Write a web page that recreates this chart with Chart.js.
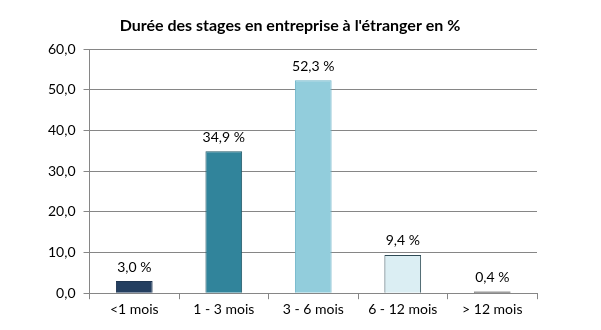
<!DOCTYPE html>
<html>
<head>
<meta charset="utf-8">
<script src="https://cdn.jsdelivr.net/npm/chart.js@4/dist/chart.umd.min.js"></script>
<style>
  html, body { margin: 0; padding: 0; background: #fff; }
  #wrap { width: 601px; height: 330px; position: relative; }
</style>
</head>
<body>
<div id="wrap"><canvas id="grafico"></canvas></div>
<script>
const categories = ["<1 mois", "1 - 3 mois", "3 - 6 mois", "6 - 12 mois", "> 12 mois"];
const values = [3.0, 34.9, 52.3, 9.4, 0.4];
const barColors = ["#243F60", "#31849B", "#92CDDC", "#DBEEF3", "#404040"];
const borderColors = ["#1F3550", "#215968", "#6FB5C8", "#2E4A55", "#333333"];
const titre = "Durée des stages en entreprise à l'étranger en %";

const fonte = "Lato, 'Open Sans', sans-serif";

function virgule(v, d) {
  return v.toFixed(d).replace(".", ",");
}

// titre un peu a gauche du centre, comme dans le classeur
const titrePlugin = {
  id: "titre",
  afterDraw(chart) {
    const c = chart.ctx;
    c.save();
    c.font = "bold 16px " + fonte;
    c.fillStyle = "#000";
    c.textAlign = "center";
    c.textBaseline = "middle";
    c.fillText(titre, 290, 26);
    c.restore();
  },
};

// etiquettes "xx,x %" au-dessus des barres
const etiquettes = {
  id: "etiquettes",
  afterDatasetsDraw(chart) {
    const c = chart.ctx;
    const meta = chart.getDatasetMeta(0);
    c.save();
    c.font = "14px " + fonte;
    c.fillStyle = "#000";
    c.textAlign = "center";
    c.textBaseline = "bottom";
    meta.data.forEach((bar, i) => {
      c.fillText(virgule(values[i], 1) + " %", bar.x, bar.y - 7);
    });
    c.restore();
  },
};

new Chart(document.getElementById("grafico"), {
  type: "bar",
  data: {
    labels: categories,
    datasets: [
      {
        data: values,
        backgroundColor: barColors,
        borderColor: borderColors,
        borderWidth: 1,
        categoryPercentage: 0.41,
        barPercentage: 1,
      },
    ],
  },
  options: {
    responsive: true,
    maintainAspectRatio: false,
    animation: false,
    layout: { padding: { top: 49, right: 64, bottom: 10, left: 40 } },
    plugins: {
      legend: { display: false },
      title: { display: false },
      tooltip: { enabled: false },
    },
    scales: {
      x: {
        grid: {
          offset: true,
          drawOnChartArea: false,
          color: "#868686",
          tickLength: 6,
        },
        border: { color: "#868686" },
        ticks: {
          color: "#000",
          font: { family: fonte, size: 14 },
          padding: 2,
        },
      },
      y: {
        min: 0,
        max: 60,
        grid: { color: "#868686", tickLength: 6 },
        border: { color: "#868686" },
        ticks: {
          stepSize: 10,
          color: "#000",
          font: { family: fonte, size: 14 },
          padding: 8,
          callback: (v) => virgule(v, 1),
        },
      },
    },
  },
  plugins: [titrePlugin, etiquettes],
});
</script>
</body>
</html>
